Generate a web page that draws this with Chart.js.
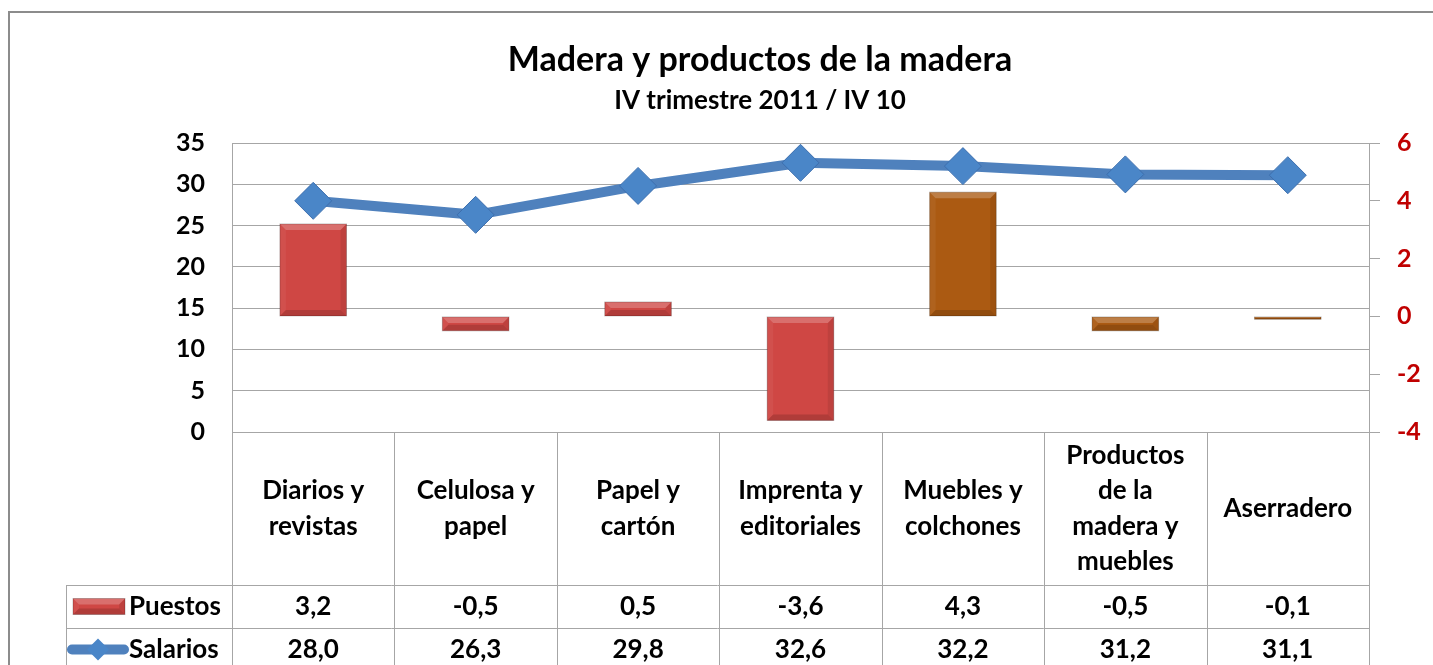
<!DOCTYPE html>
<html>
<head>
<meta charset="utf-8">
<title>Madera y productos de la madera</title>
<script src="https://cdn.jsdelivr.net/npm/chart.js@4.4.1/dist/chart.umd.min.js"></script>
<style>
    html, body { margin: 0; padding: 0; background: #fff; overflow: hidden; }
    #wrap { position: relative; width: 1520px; height: 665px; }
</style>
</head>
<body>
<div id="wrap"><canvas id="chart"></canvas></div>
<script>
// Data
const categories = [
    ["Diarios y", "revistas"],
    ["Celulosa y", "papel"],
    ["Papel y", "cartón"],
    ["Imprenta y", "editoriales"],
    ["Muebles y", "colchones"],
    ["Productos", "de la", "madera y", "muebles"],
    ["Aserradero"]
];
const puestos = [3.2, -0.5, 0.5, -3.6, 4.3, -0.5, -0.1];
const salarios = [28.0, 26.3, 29.8, 32.6, 32.2, 31.2, 31.1];
const leftTicks = [0, 5, 10, 15, 20, 25, 30, 35];
const rightTicks = [-4, -2, 0, 2, 4, 6];
const barColors = ["#cf4744", "#cf4744", "#cf4744", "#cf4744", "#ab5a12", "#ab5a12", "#ab5a12"];

const FONT = "Lato, 'Open Sans', sans-serif";
const GRID = "#a6a6a6";
const fmt = v => v.toFixed(1).replace(".", ",");

function poly(ctx, pts, fill) {
    ctx.beginPath();
    ctx.moveTo(pts[0][0], pts[0][1]);
    for (let i = 1; i < pts.length; i++) ctx.lineTo(pts[i][0], pts[i][1]);
    ctx.closePath();
    ctx.fillStyle = fill;
    ctx.fill();
}

// bevel look of the Excel bars
function bevel(ctx, l, t, r, b) {
    const e = Math.min(6, (b - t) / 2, (r - l) / 2);
    poly(ctx, [[l, t], [r, t], [r - e, t + e], [l + e, t + e]], "rgba(255,255,255,0.22)");
    poly(ctx, [[l, t], [l + e, t + e], [l + e, b - e], [l, b]], "rgba(255,255,255,0.05)");
    poly(ctx, [[r, t], [r, b], [r - e, b - e], [r - e, t + e]], "rgba(0,0,0,0.08)");
    poly(ctx, [[l, b], [l + e, b - e], [r - e, b - e], [r, b]], "rgba(0,0,0,0.15)");
    ctx.strokeStyle = "rgba(0,0,0,0.22)";
    ctx.lineWidth = 1;
    ctx.strokeRect(l, t, r - l, b - t);
}

const barBevel = {
    id: "barBevel",
    afterDatasetDraw(chart, args) {
        if (args.index !== 0) return;
        const ctx = chart.ctx;
        ctx.save();
        chart.getDatasetMeta(0).data.forEach(bar => {
            const l = bar.x - bar.width / 2, r = bar.x + bar.width / 2;
            const t = Math.min(bar.y, bar.base), b = Math.max(bar.y, bar.base);
            bevel(ctx, l, t, r, b);
        });
        ctx.restore();
    }
};

const decorations = {
    id: "decorations",
    afterDraw(chart) {
        const ctx = chart.ctx;
        const area = chart.chartArea;
        const H = chart.height;
        const n = categories.length;
        const colW = (area.right - area.left) / n;
        const headerBottom = area.bottom + 153;
        const rowH = 43;
        const tableLeft = 66;

        ctx.save();

        // outer frame
        ctx.strokeStyle = "#8c8c8c";
        ctx.lineWidth = 2;
        ctx.beginPath();
        ctx.moveTo(9, H);
        ctx.lineTo(9, 12);
        ctx.lineTo(chart.width, 12);
        ctx.stroke();

        // titles
        ctx.fillStyle = "#000";
        ctx.textAlign = "center";
        ctx.textBaseline = "middle";
        ctx.font = "bold 34px " + FONT;
        ctx.fillText("Madera y productos de la madera", 760, 60);
        ctx.font = "bold 26px " + FONT;
        ctx.fillText("IV trimestre 2011 / IV 10", 760, 101);

        // data table grid
        ctx.strokeStyle = GRID;
        ctx.lineWidth = 1;
        ctx.beginPath();
        for (let i = 0; i <= n; i++) {
            const x = Math.round(area.left + i * colW) + 0.5;
            ctx.moveTo(x, area.bottom);
            ctx.lineTo(x, H);
        }
        for (let k = 0; k < 2; k++) {
            const y = Math.round(headerBottom + k * rowH) + 0.5;
            ctx.moveTo(tableLeft, y);
            ctx.lineTo(area.right, y);
        }
        ctx.moveTo(tableLeft + 0.5, headerBottom);
        ctx.lineTo(tableLeft + 0.5, H);
        ctx.stroke();

        // category headers
        ctx.fillStyle = "#000";
        ctx.font = "bold 26px " + FONT;
        const midH = (area.bottom + headerBottom) / 2;
        const lh = 35.5;
        categories.forEach((lines, i) => {
            const cx = area.left + (i + 0.5) * colW;
            lines.forEach((s, j) => {
                ctx.fillText(s, cx, midH + (j - (lines.length - 1) / 2) * lh);
            });
        });

        // values
        const yP = headerBottom + rowH / 2;
        const yS = headerBottom + rowH * 1.5;
        puestos.forEach((v, i) => ctx.fillText(fmt(v), area.left + (i + 0.5) * colW, yP));
        salarios.forEach((v, i) => ctx.fillText(fmt(v), area.left + (i + 0.5) * colW, yS));

        // row labels with legend keys
        ctx.textAlign = "left";
        ctx.fillText("Puestos", 129, yP);
        ctx.fillText("Salarios", 129, yS);

        ctx.fillStyle = barColors[0];
        ctx.fillRect(73, yP - 8, 52, 16);
        bevel(ctx, 73, yP - 8, 125, yP + 8);

        ctx.strokeStyle = "#4f81bd";
        ctx.lineWidth = 10;
        ctx.lineCap = "round";
        ctx.beginPath();
        ctx.moveTo(72, yS);
        ctx.lineTo(124, yS);
        ctx.stroke();
        poly(ctx, [[98, yS - 11], [109, yS], [98, yS + 11], [87, yS]], "#4a86c8");
        ctx.restore();
    }
};

new Chart(document.getElementById("chart"), {
    data: {
        labels: categories,
        datasets: [{
            type: "bar",
            label: "Puestos",
            data: puestos,
            yAxisID: "y1",
            backgroundColor: barColors,
            borderWidth: 0,
            barPercentage: 0.41,
            categoryPercentage: 1,
            order: 1
        }, {
            type: "line",
            label: "Salarios",
            data: salarios,
            yAxisID: "y",
            borderColor: "#4f81bd",
            borderWidth: 10,
            tension: 0,
            pointStyle: "rectRot",
            pointRadius: 18.5,
            pointBackgroundColor: "#4a86c8",
            pointBorderColor: "#3d6fae",
            pointBorderWidth: 1,
            order: 0
        }]
    },
    options: {
        responsive: true,
        maintainAspectRatio: false,
        animation: false,
        layout: {
            padding: { left: 0, right: 0, top: 143, bottom: 233 }
        },
        plugins: {
            legend: { display: false },
            tooltip: { enabled: false },
            title: { display: false }
        },
        scales: {
            x: {
                type: "category",
                offset: true,
                grid: { display: false },
                border: { color: GRID, width: 1 },
                ticks: { display: false },
                afterFit(scale) { scale.height = 0; }
            },
            y: {
                position: "left",
                min: leftTicks[0],
                max: leftTicks[leftTicks.length - 1],
                ticks: {
                    stepSize: leftTicks[1] - leftTicks[0],
                    padding: 27,
                    color: "#000",
                    font: { family: FONT, size: 25, weight: "bold" }
                },
                grid: { color: GRID, drawTicks: false },
                border: { color: GRID, width: 1 },
                afterFit(scale) { scale.width = 232; }
            },
            y1: {
                position: "right",
                min: rightTicks[0],
                max: rightTicks[rightTicks.length - 1],
                ticks: {
                    stepSize: rightTicks[1] - rightTicks[0],
                    padding: 17,
                    color: "#c00000",
                    font: { family: FONT, size: 25, weight: "bold" },
                    callback: v => String(v)
                },
                grid: { color: GRID, drawOnChartArea: false, drawTicks: true, tickLength: 11 },
                border: { color: GRID, width: 1 },
                afterFit(scale) { scale.width = 1520 - 1369; }
            }
        }
    },
    plugins: [barBevel, decorations]
});
</script>
</body>
</html>
